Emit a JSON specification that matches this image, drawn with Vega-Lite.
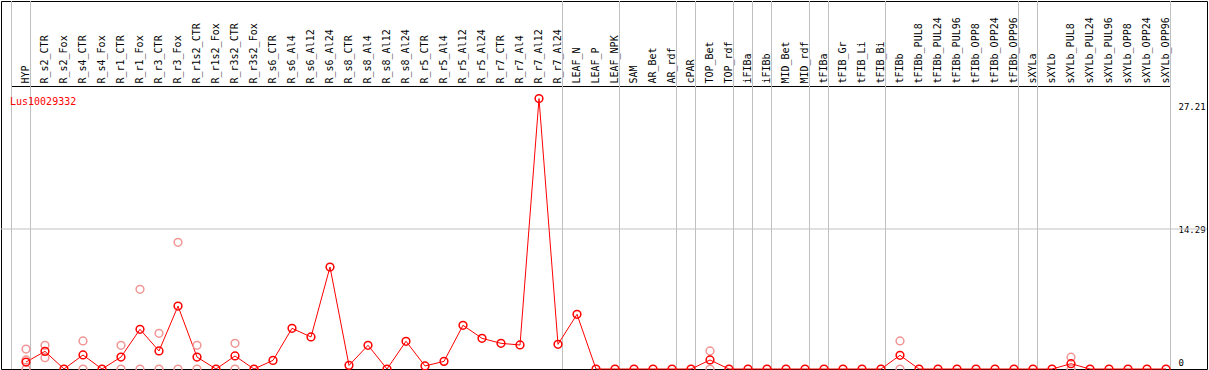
{
  "$schema": "https://vega.github.io/schema/vega-lite/v6.json",
  "width": 1206,
  "height": 368,
  "autosize": {"type": "none"},
  "padding": {"left": 1, "top": 1, "right": 2, "bottom": 1},
  "background": "white",
  "title": {"text": "Lus10029332", "anchor": "start", "frame": "group", "orient": "top", "color": "#ff0000", "font": "DejaVu Sans Mono", "fontSize": 10, "fontWeight": "normal", "baseline": "alphabetic", "offset": 0, "dx": 9, "dy": 114},
  "config": {"view": {"stroke": "#000000", "strokeWidth": 1}},
  "datasets": {
    "expr": [
      {"i": 0, "tissue": "HYP", "mean": 0.71, "groupEnd": true},
      {"i": 1, "tissue": "R_s2_CTR", "mean": 1.80, "groupEnd": false},
      {"i": 2, "tissue": "R_s2_Fox", "mean": 0, "groupEnd": false},
      {"i": 3, "tissue": "R_s4_CTR", "mean": 1.43, "groupEnd": false},
      {"i": 4, "tissue": "R_s4_Fox", "mean": 0, "groupEnd": false},
      {"i": 5, "tissue": "R_r1_CTR", "mean": 1.22, "groupEnd": false},
      {"i": 6, "tissue": "R_r1_Fox", "mean": 4.05, "groupEnd": false},
      {"i": 7, "tissue": "R_r3_CTR", "mean": 1.84, "groupEnd": false},
      {"i": 8, "tissue": "R_r3_Fox", "mean": 6.42, "groupEnd": false},
      {"i": 9, "tissue": "R_r1s2_CTR", "mean": 1.22, "groupEnd": false},
      {"i": 10, "tissue": "R_r1s2_Fox", "mean": 0, "groupEnd": false},
      {"i": 11, "tissue": "R_r3s2_CTR", "mean": 1.33, "groupEnd": false},
      {"i": 12, "tissue": "R_r3s2_Fox", "mean": 0, "groupEnd": false},
      {"i": 13, "tissue": "R_s6_CTR", "mean": 0.88, "groupEnd": false},
      {"i": 14, "tissue": "R_s6_Al4", "mean": 4.15, "groupEnd": false},
      {"i": 15, "tissue": "R_s6_Al12", "mean": 3.27, "groupEnd": false},
      {"i": 16, "tissue": "R_s6_Al24", "mean": 10.41, "groupEnd": false},
      {"i": 17, "tissue": "R_s8_CTR", "mean": 0.37, "groupEnd": false},
      {"i": 18, "tissue": "R_s8_Al4", "mean": 2.42, "groupEnd": false},
      {"i": 19, "tissue": "R_s8_Al12", "mean": 0, "groupEnd": false},
      {"i": 20, "tissue": "R_s8_Al24", "mean": 2.83, "groupEnd": false},
      {"i": 21, "tissue": "R_r5_CTR", "mean": 0.31, "groupEnd": false},
      {"i": 22, "tissue": "R_r5_Al4", "mean": 0.78, "groupEnd": false},
      {"i": 23, "tissue": "R_r5_Al12", "mean": 4.46, "groupEnd": false},
      {"i": 24, "tissue": "R_r5_Al24", "mean": 3.13, "groupEnd": false},
      {"i": 25, "tissue": "R_r7_CTR", "mean": 2.62, "groupEnd": false},
      {"i": 26, "tissue": "R_r7_Al4", "mean": 2.45, "groupEnd": false},
      {"i": 27, "tissue": "R_r7_Al12", "mean": 27.6, "groupEnd": false},
      {"i": 28, "tissue": "R_r7_Al24", "mean": 2.52, "groupEnd": true},
      {"i": 29, "tissue": "LEAF_N", "mean": 5.58, "groupEnd": false},
      {"i": 30, "tissue": "LEAF_P", "mean": 0, "groupEnd": false},
      {"i": 31, "tissue": "LEAF_NPK", "mean": 0, "groupEnd": true},
      {"i": 32, "tissue": "SAM", "mean": 0, "groupEnd": false},
      {"i": 33, "tissue": "AR_Bet", "mean": 0, "groupEnd": false},
      {"i": 34, "tissue": "AR_rdf", "mean": 0, "groupEnd": true},
      {"i": 35, "tissue": "cPAR", "mean": 0, "groupEnd": true},
      {"i": 36, "tissue": "TOP_Bet", "mean": 0.92, "groupEnd": false},
      {"i": 37, "tissue": "TOP_rdf", "mean": 0, "groupEnd": true},
      {"i": 38, "tissue": "iFIBa", "mean": 0, "groupEnd": true},
      {"i": 39, "tissue": "iFIBb", "mean": 0, "groupEnd": true},
      {"i": 40, "tissue": "MID_Bet", "mean": 0, "groupEnd": false},
      {"i": 41, "tissue": "MID_rdf", "mean": 0, "groupEnd": true},
      {"i": 42, "tissue": "tFIBa", "mean": 0, "groupEnd": true},
      {"i": 43, "tissue": "tFIB_Gr", "mean": 0, "groupEnd": false},
      {"i": 44, "tissue": "tFIB_Li", "mean": 0, "groupEnd": false},
      {"i": 45, "tissue": "tFIB_Bi", "mean": 0, "groupEnd": true},
      {"i": 46, "tissue": "tFIBb", "mean": 1.40, "groupEnd": false},
      {"i": 47, "tissue": "tFIBb_PUL8", "mean": 0, "groupEnd": false},
      {"i": 48, "tissue": "tFIBb_PUL24", "mean": 0, "groupEnd": false},
      {"i": 49, "tissue": "tFIBb_PUL96", "mean": 0, "groupEnd": false},
      {"i": 50, "tissue": "tFIBb_OPP8", "mean": 0, "groupEnd": false},
      {"i": 51, "tissue": "tFIBb_OPP24", "mean": 0, "groupEnd": false},
      {"i": 52, "tissue": "tFIBb_OPP96", "mean": 0, "groupEnd": true},
      {"i": 53, "tissue": "sXYLa", "mean": 0, "groupEnd": true},
      {"i": 54, "tissue": "sXYLb", "mean": 0, "groupEnd": false},
      {"i": 55, "tissue": "sXYLb_PUL8", "mean": 0.54, "groupEnd": false},
      {"i": 56, "tissue": "sXYLb_PUL24", "mean": 0, "groupEnd": false},
      {"i": 57, "tissue": "sXYLb_PUL96", "mean": 0, "groupEnd": false},
      {"i": 58, "tissue": "sXYLb_OPP8", "mean": 0, "groupEnd": false},
      {"i": 59, "tissue": "sXYLb_OPP24", "mean": 0, "groupEnd": false},
      {"i": 60, "tissue": "sXYLb_OPP96", "mean": 0, "groupEnd": true}
    ],
    "reps": [
      {"tissue": "HYP", "value": 2.04},
      {"tissue": "HYP", "value": 0.92},
      {"tissue": "HYP", "value": 0},
      {"tissue": "R_s2_CTR", "value": 2.42},
      {"tissue": "R_s2_CTR", "value": 1.15},
      {"tissue": "R_s4_CTR", "value": 2.86},
      {"tissue": "R_s4_CTR", "value": 0},
      {"tissue": "R_r1_CTR", "value": 2.42},
      {"tissue": "R_r1_CTR", "value": 0},
      {"tissue": "R_r1_Fox", "value": 8.13},
      {"tissue": "R_r1_Fox", "value": 0},
      {"tissue": "R_r3_CTR", "value": 3.64},
      {"tissue": "R_r3_CTR", "value": 0},
      {"tissue": "R_r3_Fox", "value": 12.93},
      {"tissue": "R_r3_Fox", "value": 0},
      {"tissue": "R_r1s2_CTR", "value": 2.42},
      {"tissue": "R_r1s2_CTR", "value": 0},
      {"tissue": "R_r3s2_CTR", "value": 2.62},
      {"tissue": "R_r3s2_CTR", "value": 0},
      {"tissue": "TOP_Bet", "value": 1.84},
      {"tissue": "TOP_Bet", "value": 0},
      {"tissue": "tFIBb", "value": 2.86},
      {"tissue": "tFIBb", "value": 0},
      {"tissue": "sXYLb_PUL8", "value": 1.2},
      {"tissue": "sXYLb_PUL8", "value": 0}
    ]
  },
  "layer": [
    {
      "data": {"name": "expr"},
      "transform": [{"filter": "datum.groupEnd"}],
      "mark": {"type": "rule", "color": "#c0c0c0", "strokeWidth": 1},
      "encoding": {
        "x": {"field": "tissue", "type": "nominal", "bandPosition": 1,
          "scale": {"type": "band", "domain": ["HYP","R_s2_CTR","R_s2_Fox","R_s4_CTR","R_s4_Fox","R_r1_CTR","R_r1_Fox","R_r3_CTR","R_r3_Fox","R_r1s2_CTR","R_r1s2_Fox","R_r3s2_CTR","R_r3s2_Fox","R_s6_CTR","R_s6_Al4","R_s6_Al12","R_s6_Al24","R_s8_CTR","R_s8_Al4","R_s8_Al12","R_s8_Al24","R_r5_CTR","R_r5_Al4","R_r5_Al12","R_r5_Al24","R_r7_CTR","R_r7_Al4","R_r7_Al12","R_r7_Al24","LEAF_N","LEAF_P","LEAF_NPK","SAM","AR_Bet","AR_rdf","cPAR","TOP_Bet","TOP_rdf","iFIBa","iFIBb","MID_Bet","MID_rdf","tFIBa","tFIB_Gr","tFIB_Li","tFIB_Bi","tFIBb","tFIBb_PUL8","tFIBb_PUL24","tFIBb_PUL96","tFIBb_OPP8","tFIBb_OPP24","tFIBb_OPP96","sXYLa","sXYLb","sXYLb_PUL8","sXYLb_PUL24","sXYLb_PUL96","sXYLb_OPP8","sXYLb_OPP24","sXYLb_OPP96"], "range": [10.5, 1169.5], "paddingInner": 0, "paddingOuter": 0, "round": false},
          "axis": {"orient": "top", "offset": -85, "title": null, "ticks": false, "tickSize": 0, "labelAngle": -90, "labelAlign": "left", "labelBaseline": "middle", "labelPadding": 3, "labelOffset": 4.5, "labelFont": "DejaVu Sans Mono", "labelFontSize": 10, "labelColor": "#000000", "labelOverlap": false, "domainColor": "#000000", "domainWidth": 1, "grid": false}}
      }
    },
    {
      "data": {"name": "expr"},
      "transform": [{"filter": "datum.i === 0"}],
      "mark": {"type": "rule", "color": "#c0c0c0", "strokeWidth": 1},
      "encoding": {
        "x": {"field": "tissue", "type": "nominal", "bandPosition": 0,
          "axis": {"orient": "top", "offset": -85, "title": null, "ticks": false, "tickSize": 0, "labelAngle": -90, "labelAlign": "left", "labelBaseline": "middle", "labelPadding": 3, "labelOffset": 4.5, "labelFont": "DejaVu Sans Mono", "labelFontSize": 10, "labelColor": "#000000", "labelOverlap": false, "domainColor": "#000000", "domainWidth": 1, "grid": false}}
      }
    },
    {
      "data": {"name": "expr"},
      "transform": [{"filter": "datum.i === 0"}],
      "mark": {"type": "rule", "color": "#c0c0c0", "strokeWidth": 1},
      "encoding": {
        "y": {"datum": 14.29, "type": "quantitative",
          "axis": {"orient": "right", "offset": -37, "title": null, "values": [0, 14.29, 27.21], "domain": false, "ticks": false, "tickSize": 0, "labelPadding": 8, "labelAlign": "left", "labelBaseline": "middle", "labelFont": "DejaVu Sans Mono", "labelFontSize": 9, "labelColor": "#000000", "labelOverlap": false, "labelExpr": "datum.value === 0 ? '0' : format(datum.value, '.2f')", "labelOffset": {"condition": [{"test": "datum.value === 0", "value": -7}, {"test": "datum.value > 20", "value": 4.5}], "value": 1}, "grid": false}}
      }
    },
    {
      "data": {"name": "expr"},
      "mark": {"type": "line", "color": "#ff0000", "strokeWidth": 1},
      "encoding": {
        "x": {"field": "tissue", "type": "nominal", "bandPosition": 0.7632,
          "axis": {"orient": "top", "offset": -85, "title": null, "ticks": false, "tickSize": 0, "labelAngle": -90, "labelAlign": "left", "labelBaseline": "middle", "labelPadding": 3, "labelOffset": 4.5, "labelFont": "DejaVu Sans Mono", "labelFontSize": 10, "labelColor": "#000000", "labelOverlap": false, "domainColor": "#000000", "domainWidth": 1, "grid": false}},
        "y": {"field": "mean", "type": "quantitative", "scale": {"domain": [0, 37.56], "nice": false, "zero": true},
          "axis": {"orient": "right", "offset": -37, "title": null, "values": [0, 14.29, 27.21], "domain": false, "ticks": false, "tickSize": 0, "labelPadding": 8, "labelAlign": "left", "labelBaseline": "middle", "labelFont": "DejaVu Sans Mono", "labelFontSize": 9, "labelColor": "#000000", "labelOverlap": false, "labelExpr": "datum.value === 0 ? '0' : format(datum.value, '.2f')", "labelOffset": {"condition": [{"test": "datum.value === 0", "value": -7}, {"test": "datum.value > 20", "value": 4.5}], "value": 1}, "grid": false}},
        "order": {"field": "i", "type": "quantitative"}
      }
    },
    {
      "data": {"name": "reps"},
      "mark": {"type": "point", "shape": "circle", "filled": false, "stroke": "#f09696", "strokeWidth": 1.5, "size": 60, "opacity": 1},
      "encoding": {
        "x": {"field": "tissue", "type": "nominal", "bandPosition": 0.7632,
          "axis": {"orient": "top", "offset": -85, "title": null, "ticks": false, "tickSize": 0, "labelAngle": -90, "labelAlign": "left", "labelBaseline": "middle", "labelPadding": 3, "labelOffset": 4.5, "labelFont": "DejaVu Sans Mono", "labelFontSize": 10, "labelColor": "#000000", "labelOverlap": false, "domainColor": "#000000", "domainWidth": 1, "grid": false}},
        "y": {"field": "value", "type": "quantitative",
          "axis": {"orient": "right", "offset": -37, "title": null, "values": [0, 14.29, 27.21], "domain": false, "ticks": false, "tickSize": 0, "labelPadding": 8, "labelAlign": "left", "labelBaseline": "middle", "labelFont": "DejaVu Sans Mono", "labelFontSize": 9, "labelColor": "#000000", "labelOverlap": false, "labelExpr": "datum.value === 0 ? '0' : format(datum.value, '.2f')", "labelOffset": {"condition": [{"test": "datum.value === 0", "value": -7}, {"test": "datum.value > 20", "value": 4.5}], "value": 1}, "grid": false}}
      }
    },
    {
      "data": {"name": "expr"},
      "mark": {"type": "point", "shape": "circle", "filled": false, "stroke": "#ff0000", "strokeWidth": 1.5, "size": 60, "opacity": 1},
      "encoding": {
        "x": {"field": "tissue", "type": "nominal", "bandPosition": 0.7632,
          "axis": {"orient": "top", "offset": -85, "title": null, "ticks": false, "tickSize": 0, "labelAngle": -90, "labelAlign": "left", "labelBaseline": "middle", "labelPadding": 3, "labelOffset": 4.5, "labelFont": "DejaVu Sans Mono", "labelFontSize": 10, "labelColor": "#000000", "labelOverlap": false, "domainColor": "#000000", "domainWidth": 1, "grid": false}},
        "y": {"field": "mean", "type": "quantitative",
          "axis": {"orient": "right", "offset": -37, "title": null, "values": [0, 14.29, 27.21], "domain": false, "ticks": false, "tickSize": 0, "labelPadding": 8, "labelAlign": "left", "labelBaseline": "middle", "labelFont": "DejaVu Sans Mono", "labelFontSize": 9, "labelColor": "#000000", "labelOverlap": false, "labelExpr": "datum.value === 0 ? '0' : format(datum.value, '.2f')", "labelOffset": {"condition": [{"test": "datum.value === 0", "value": -7}, {"test": "datum.value > 20", "value": 4.5}], "value": 1}, "grid": false}}
      }
    }
  ]
}
